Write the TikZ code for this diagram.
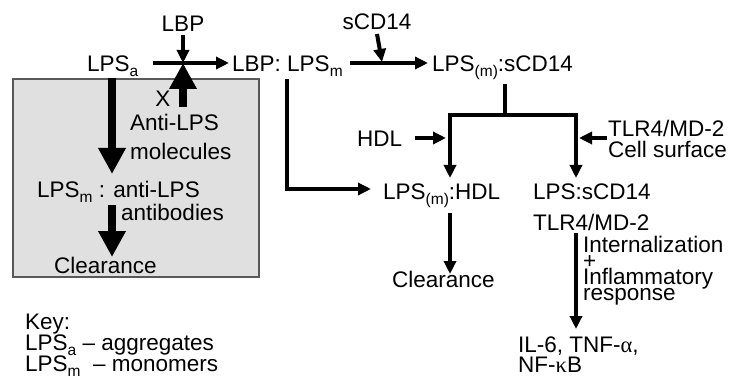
\documentclass[tikz,border=0pt]{standalone}
\usepackage{fontspec}
\setmainfont{Liberation Sans}
\newfontfamily\grk{Liberation Serif}
\usetikzlibrary{arrows.meta}
\newcommand{\sbs}[1]{\raisebox{-5pt}{\fontsize{15.5}{15.5}\selectfont #1}}
\begin{document}
\begin{tikzpicture}[x=1pt,y=-1pt,
  lbl/.style={anchor=base west, inner sep=0pt, font=\fontsize{22.5}{22.5}\selectfont},
  lblc/.style={lbl, anchor=base},
  multi/.style={lbl, align=left, font={\fontsize{22.5}{#1}\selectfont\lineskiplimit=-30pt}},
  thinar/.style={line width=4pt, -{Triangle[length=13pt,width=12pt]}},
  thickar/.style={line width=8.5pt, -{Triangle[length=26pt,width=26pt]}},
  brk/.style={line width=4.5pt, line join=miter},
  boxst/.style={fill=black!12, draw=black!65, line width=1.3pt}]
\useasboundingbox (0,0) rectangle (733,390);
% grey box
\draw[boxst] (13,79) rectangle (259,277);
% texts (multi-line nodes are placed by the baseline of their last line)
\node[lblc] (lbp) at (183,32) {LBP};
\node[lbl] (lpsa) at (87,72) {LPS\sbs{a}};
\node[lbl] (lbplps) at (232,72) {LBP: LPS\sbs{m}};
\node[lblc] (scd) at (377,30) {sCD14};
\node[lbl] (lpsscd) at (432,72) {LPS\sbs{(m)}:sCD14};
\node[lblc] (xx) at (163,107) {X};
\node[lbl] (anti) at (130,131) {Anti-LPS};
\node[lbl] (molec) at (130,160) {molecules};
\node[lbl] (lpsanti) at (37,197) {LPS\sbs{m} : anti-LPS};
\node[lbl] (antib) at (121,220) {antibodies};
\node[lbl] (clear1) at (54,273) {Clearance};
\node[lbl] (hdl) at (357,147) {HDL};
\node[multi=21pt] (tlr) at (608,158) {TLR4/MD-2\\Cell surface};
\node[lbl] (lpshdl) at (383,200) {LPS\sbs{(m)}:HDL};
\node[lbl] (lpsscd2) at (533,200) {LPS:sCD14};
\node[lbl] (tlr2) at (533,230) {TLR4/MD-2};
\node[lbl] (clear2) at (392,287) {Clearance};
\node[multi=16pt] (intern) at (583,300) {Internalization\\+\\Inflammatory\\response};
\node[multi=20pt] (il6) at (518,372) {IL-6, TNF-{\grk α},\\NF-{\grk κ}B};
\node[multi=21pt] (key) at (25,371) {Key:\\LPS\sbs{a} – aggregates\\LPS\sbs{m}\ \ – monomers};
% junction coordinates
\coordinate (j1) at (183,63);
\coordinate (h1s) at (153,63);
\coordinate (h1e) at (229,63);
\coordinate (h2s) at (350,63);
\coordinate (h2e) at (428,63);
\coordinate (j2) at (382,62);
\coordinate (up1) at (183,107);
\coordinate (d1s) at (112,78);
\coordinate (d1e) at (112,174);
\coordinate (d2s) at (112,205);
\coordinate (d2e) at (112,257);
\coordinate (v1s) at (505,84);
\coordinate (bl) at (450,178);
\coordinate (br) at (576,178);
\coordinate (bt) at (505,115);
\coordinate (hdls) at (415,138);
\coordinate (hdle) at (446,138);
\coordinate (tlrs) at (607,138);
\coordinate (tlre) at (579,138);
\coordinate (ls) at (287,79);
\coordinate (le) at (371,189);
\coordinate (cs) at (450,213);
\coordinate (ce) at (450,274);
\coordinate (is) at (576,233);
\coordinate (ie) at (576,329);
% connectors
\draw[thinar] (lbp.south |- 0,35) -- (j1);
\draw[thinar] (h1s) -- (h1e);
\draw[thickar] (up1) -- (j1);
\draw[thickar] (d1s) -- (d1e);
\draw[thickar] (d2s) -- (d2e);
\draw[thinar] (scd.south |- 0,34) -- (j2);
\draw[thinar] (h2s) -- (h2e);
\draw[brk] (v1s) -- (bt);
\draw[brk, -{Triangle[length=13pt,width=12pt]}] (bt) -| (bl);
\draw[brk, -{Triangle[length=13pt,width=12pt]}] (bt) -| (br);
\draw[thinar] (hdls) -- (hdle);
\draw[thinar] (tlrs) -- (tlre);
\draw[brk, -{Triangle[length=13pt,width=12pt]}] (ls) |- (le);
\draw[thinar] (cs) -- (ce);
\draw[thinar] (is) -- (ie);
\end{tikzpicture}
\end{document}
